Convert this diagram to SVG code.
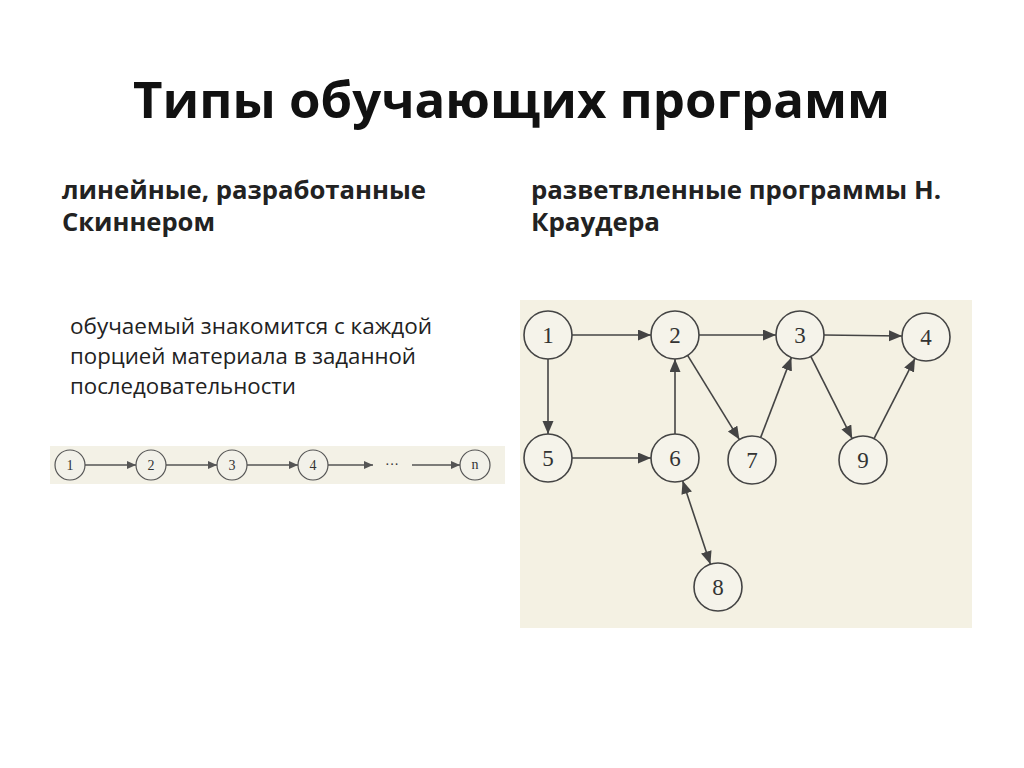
<svg xmlns="http://www.w3.org/2000/svg" width="1024" height="768" viewBox="0 0 1024 768">
<style>
.title{font-family:"Open Sans","Liberation Sans",sans-serif;font-weight:bold;font-size:51px;fill:#111}
.sub{font-family:"Open Sans","Liberation Sans",sans-serif;font-weight:bold;font-size:25px;fill:#222}
.body{font-family:"Open Sans","Liberation Sans",sans-serif;font-size:22px;fill:#222}
.nb{fill:#f5f3ea;stroke:#444;stroke-width:1.6}
.ns{fill:#f2f1e9;stroke:#555;stroke-width:1.2}
.lb{font-family:"Liberation Serif",serif;font-size:23px;fill:#333;text-anchor:middle}
.ls{font-family:"Liberation Serif",serif;font-size:14px;fill:#333;text-anchor:middle}
.eb{stroke:#444;stroke-width:1.6;fill:none}
.es{stroke:#555;stroke-width:1.3;fill:none}
</style>
<defs>
<marker id="ab" markerUnits="userSpaceOnUse" markerWidth="14" markerHeight="12" refX="13" refY="5.5" orient="auto-start-reverse"><path d="M0,0 L13,5.5 L0,11 z" fill="#444"/></marker>
<marker id="as" markerUnits="userSpaceOnUse" markerWidth="10" markerHeight="8" refX="9" refY="4" orient="auto"><path d="M0,0 L9,4 L0,8 z" fill="#555"/></marker>
</defs>
<rect width="1024" height="768" fill="#ffffff"/>
<text class="title" x="133" y="118" textLength="757" lengthAdjust="spacingAndGlyphs">Типы обучающих программ</text>
<text class="sub" x="62" y="199" textLength="364" lengthAdjust="spacingAndGlyphs">линейные, разработанные</text>
<text class="sub" x="62" y="231" textLength="153" lengthAdjust="spacingAndGlyphs">Скиннером</text>
<text class="sub" x="531" y="199" textLength="410" lengthAdjust="spacingAndGlyphs">разветвленные программы Н.</text>
<text class="sub" x="531" y="231" textLength="129" lengthAdjust="spacingAndGlyphs">Краудера</text>
<text class="body" x="70" y="334" textLength="362" lengthAdjust="spacingAndGlyphs">обучаемый знакомится с каждой</text>
<text class="body" x="70" y="364" textLength="346" lengthAdjust="spacingAndGlyphs">порцией материала в заданной</text>
<text class="body" x="70" y="394" textLength="226" lengthAdjust="spacingAndGlyphs">последовательности</text>

<rect x="50" y="446" width="455" height="38" fill="#f3f1e6"/>
<rect x="520" y="300" width="452" height="328" fill="#f4f1e3"/>

<g id="connectors">
<line class="es" x1="85" y1="465" x2="136" y2="465" marker-end="url(#as)"/>
<line class="es" x1="166" y1="465" x2="217" y2="465" marker-end="url(#as)"/>
<line class="es" x1="247" y1="465" x2="298" y2="465" marker-end="url(#as)"/>
<line class="es" x1="328" y1="465" x2="373" y2="465" marker-end="url(#as)"/>
<line class="es" x1="412" y1="465" x2="460" y2="465" marker-end="url(#as)"/>
<line class="eb" x1="572" y1="335" x2="651" y2="335" marker-end="url(#ab)"/>
<line class="eb" x1="699" y1="335" x2="776" y2="335" marker-end="url(#ab)"/>
<line class="eb" x1="824" y1="335" x2="902" y2="336" marker-end="url(#ab)"/>
<line class="eb" x1="548" y1="359" x2="548" y2="434" marker-end="url(#ab)"/>
<line class="eb" x1="572" y1="458" x2="651" y2="458" marker-end="url(#ab)"/>
<line class="eb" x1="675" y1="434" x2="675" y2="359" marker-end="url(#ab)"/>
<line class="eb" x1="687.6" y1="355.4" x2="739.4" y2="439.6" marker-end="url(#ab)"/>
<line class="eb" x1="760.6" y1="437.6" x2="791.4" y2="357.4" marker-end="url(#ab)"/>
<line class="eb" x1="810.8" y1="356.4" x2="852.2" y2="438.6" marker-end="url(#ab)"/>
<line class="eb" x1="874" y1="438.6" x2="915" y2="358.4" marker-end="url(#ab)"/>
<line class="eb" x1="682.6" y1="480.8" x2="710.4" y2="564.2" marker-start="url(#ab)" marker-end="url(#ab)"/>
</g>
<text class="ls" x="392" y="469" font-size="16">···</text>

<g id="s1"><circle class="ns" cx="70" cy="465" r="15"/><text class="ls" x="70" y="470">1</text></g>
<g id="s2"><circle class="ns" cx="151" cy="465" r="15"/><text class="ls" x="151" y="470">2</text></g>
<g id="s3"><circle class="ns" cx="232" cy="465" r="15"/><text class="ls" x="232" y="470">3</text></g>
<g id="s4"><circle class="ns" cx="313" cy="465" r="15"/><text class="ls" x="313" y="470">4</text></g>
<g id="sn"><circle class="ns" cx="475" cy="465" r="15"/><text class="ls" x="475" y="469">n</text></g>

<g id="b1"><circle class="nb" cx="548" cy="335" r="24"/><text class="lb" x="548" y="343">1</text></g>
<g id="b2"><circle class="nb" cx="675" cy="335" r="24"/><text class="lb" x="675" y="343">2</text></g>
<g id="b3"><circle class="nb" cx="800" cy="335" r="24"/><text class="lb" x="800" y="343">3</text></g>
<g id="b4"><circle class="nb" cx="926" cy="337" r="24"/><text class="lb" x="926" y="345">4</text></g>
<g id="b5"><circle class="nb" cx="548" cy="458" r="24"/><text class="lb" x="548" y="466">5</text></g>
<g id="b6"><circle class="nb" cx="675" cy="458" r="24"/><text class="lb" x="675" y="466">6</text></g>
<g id="b7"><circle class="nb" cx="752" cy="460" r="24"/><text class="lb" x="752" y="468">7</text></g>
<g id="b9"><circle class="nb" cx="863" cy="460" r="24"/><text class="lb" x="863" y="468">9</text></g>
<g id="b8"><circle class="nb" cx="718" cy="587" r="24"/><text class="lb" x="718" y="595">8</text></g>
</svg>
